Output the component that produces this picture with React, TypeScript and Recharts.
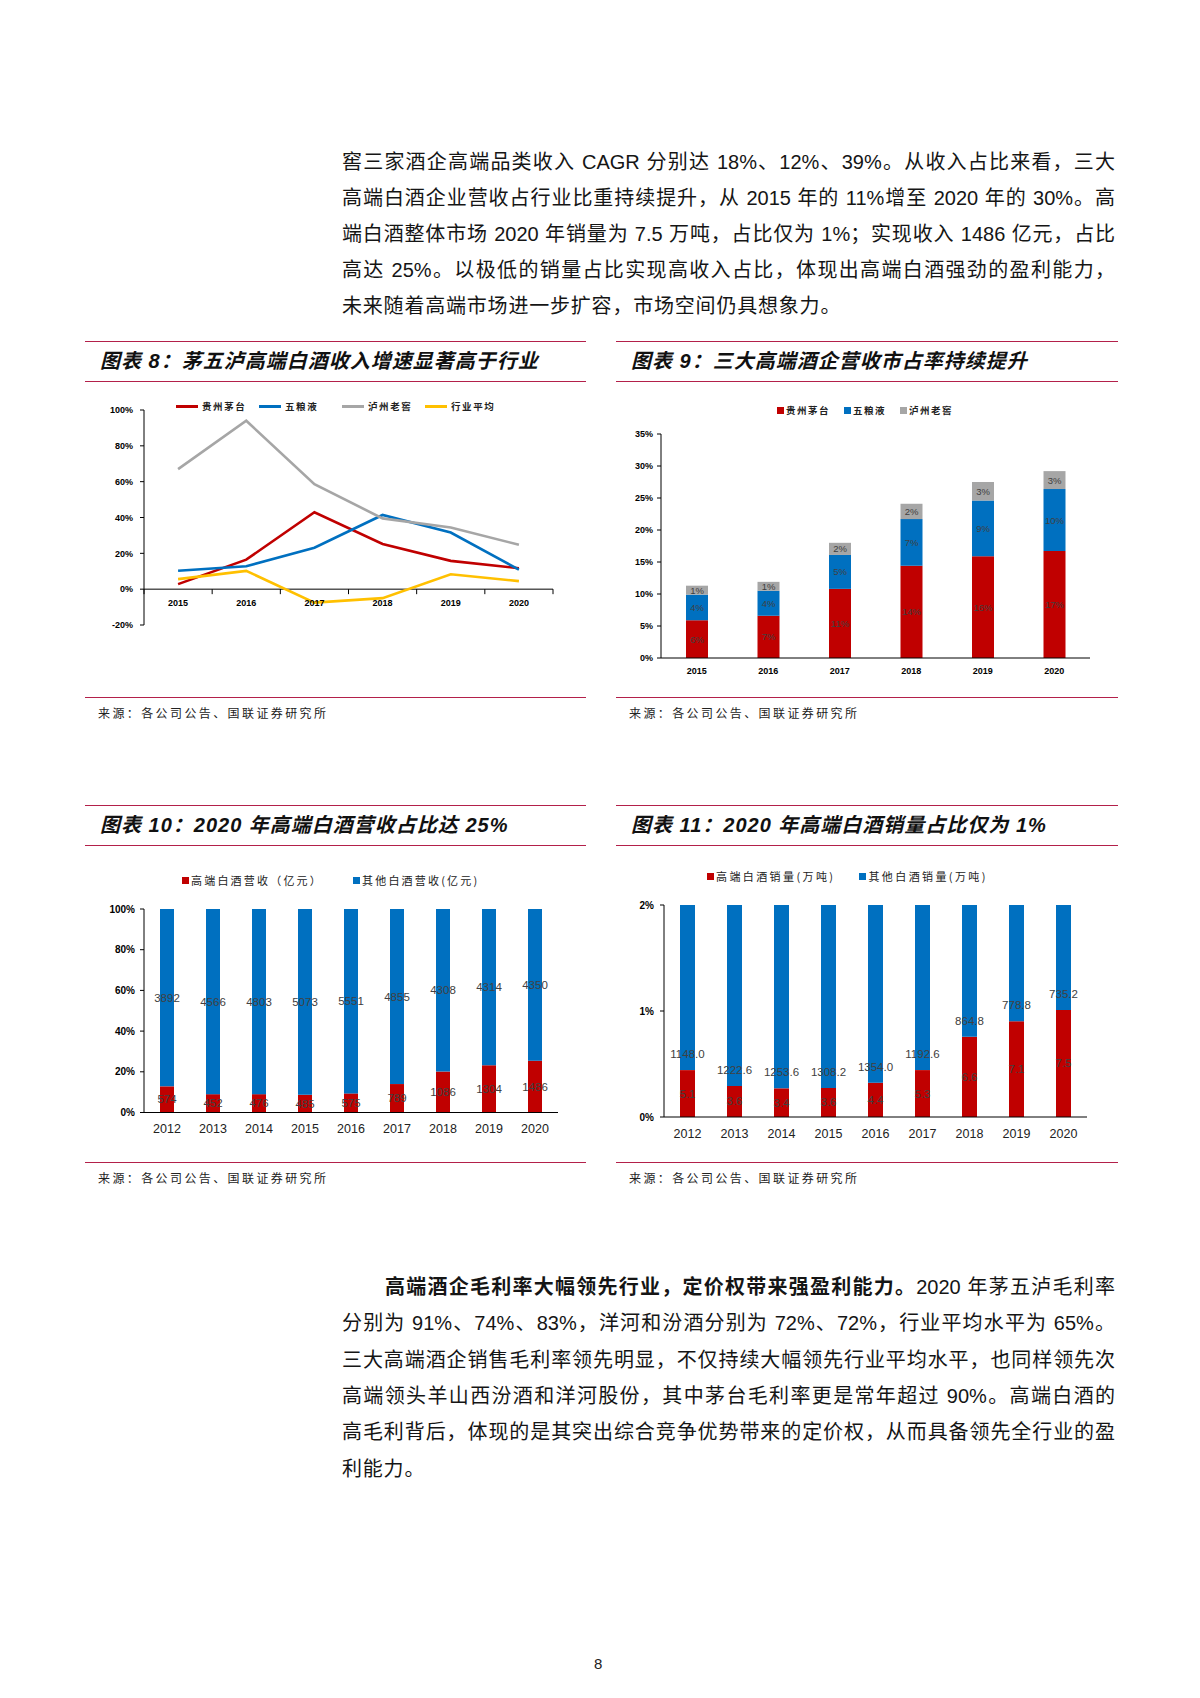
import React from 'react';
import { LineChart, Line, BarChart, Bar, XAxis, YAxis, Legend, ReferenceLine, LabelList } from 'recharts';

const FONT = '"Liberation Sans", "Noto Sans CJK SC", sans-serif';
const NARROW = '"Liberation Sans Narrow", "Liberation Sans", "Noto Sans CJK SC", sans-serif';
const CJK = '"Noto Sans CJK SC", sans-serif';
const RULE = '#b3204a';
const RED = '#c00000';
const BLUE = '#0070c0';
const GRAY = '#a6a6a6';
const YELLOW = '#ffc000';
const LABEL = '#404040';

// 图表8：收入增速（%）
const growthYears = ['2015', '2016', '2017', '2018', '2019', '2020'];
const moutaiGrowth = [2.8, 16.5, 42.9, 25.2, 15.8, 11.7];
const wuliangyeGrowth = [10.3, 12.8, 23.1, 41.4, 31.6, 10.9];
const laojiaoGrowth = [67, 94, 58.6, 39.5, 34.4, 24.8];
const industryGrowth = [5.6, 10.2, -7.5, -5, 8.3, 4.5];
const growthTicks = [-20, 0, 20, 40, 60, 80, 100];

// 图表9：市占率（%）
const moutaiShare = [5.9, 6.6, 10.8, 14.4, 15.9, 16.7];
const wuliangyeShare = [4.0, 3.9, 5.3, 7.3, 8.7, 9.7];
const laojiaoShare = [1.4, 1.4, 1.9, 2.4, 2.9, 2.8];
const shareTicks = [0, 5, 10, 15, 20, 25, 30, 35];

// 图表10 / 11
const longYears = ['2012', '2013', '2014', '2015', '2016', '2017', '2018', '2019', '2020'];
const highRevenue = [574, 452, 476, 485, 575, 789, 1086, 1304, 1486];
const otherRevenue = [3892, 4566, 4803, 5073, 5551, 4855, 4308, 4314, 4350];
const revenueTicks = [0, 0.2, 0.4, 0.6, 0.8, 1];
const highVolume = [5.1, 3.6, 3.4, 3.6, 4.4, 5.3, 6.6, 7.1, 7.5];
const otherVolume = [1148.0, 1222.6, 1253.6, 1308.2, 1354.0, 1192.6, 864.8, 778.8, 735.2];
const volumeTicks = [0, 0.01, 0.02];

const growthSeries = [
  { key: 'moutai', name: '贵州茅台', color: RED },
  { key: 'wuliangye', name: '五粮液', color: BLUE },
  { key: 'laojiao', name: '泸州老窖', color: GRAY },
  { key: 'industry', name: '行业平均', color: YELLOW },
];
const growthRows = growthYears.map((year, i) => ({
  year,
  moutai: moutaiGrowth[i],
  wuliangye: wuliangyeGrowth[i],
  laojiao: laojiaoGrowth[i],
  industry: industryGrowth[i],
}));

const shareRows = growthYears.map((year, i) => ({
  year,
  moutai: moutaiShare[i],
  wuliangye: wuliangyeShare[i],
  laojiao: laojiaoShare[i],
}));

const revenueRows = longYears.map((year, i) => {
  const total = highRevenue[i] + otherRevenue[i];
  return { year, high: highRevenue[i] / total, other: otherRevenue[i] / total };
});

const volumeRows = longYears.map((year, i) => {
  const total = highVolume[i] + otherVolume[i];
  return { year, high: highVolume[i] / total, other: otherVolume[i] / total };
});

const pct = (v: number) => `${Math.round(v * 100)}%`;

// 数据标签：center = 居中, base = 靠近柱底
const makeLabel = (fmt: (i: number) => string, place: 'center' | 'base', size: number, family: string) => (props: any) => {
  const vb = props.viewBox ?? props;
  if (vb == null || vb.x == null) return null;
  const top = Math.min(vb.y, vb.y + vb.height);
  const h = Math.abs(vb.height);
  const cy = place === 'center' ? top + h / 2 : top + h - 16;
  return (
    <text x={vb.x + vb.width / 2} y={cy} textAnchor="middle" dominantBaseline="central"
      fontSize={size} fontFamily={family} fill={LABEL}>
      {fmt(props.index)}
    </text>
  );
};

type LegendItem = { name: string; color: string };
const makeLegend = (items: LegendItem[], kind: 'line' | 'square', opts: { size: number; spacing: number; gap: number; bold?: boolean; itemWidth?: number }) => () => (
  <div style={{ display: 'flex', alignItems: 'center', gap: opts.gap, whiteSpace: 'nowrap' }}>
    {items.map((it) => (
      <div key={it.name} style={{ display: 'flex', alignItems: 'center', width: opts.itemWidth }}>
        {kind === 'line'
          ? <span style={{ display: 'inline-block', width: 22, height: 3, background: it.color, marginRight: 4 }} />
          : <span style={{ display: 'inline-block', width: 7, height: 7, background: it.color, marginRight: 2 }} />}
        <span style={{ fontFamily: CJK, fontSize: opts.size, letterSpacing: opts.spacing, fontWeight: opts.bold ? 700 : 400, color: '#222' }}>{it.name}</span>
      </div>
    ))}
  </div>
);

// 图表8 横轴落在 0% 处
const G_PLOT_H = 215;
const G_BAND = 409 / 6;
const G_ZERO = (G_PLOT_H * 20) / 120;
const GrowthTick = (props: any) => {
  const { x, y, payload, index } = props;
  const zy = y - G_ZERO;
  return (
    <g>
      <line x1={x - G_BAND / 2} x2={x - G_BAND / 2} y1={zy} y2={zy + 5} stroke="#000" />
      {index === growthYears.length - 1 && (
        <line x1={x + G_BAND / 2} x2={x + G_BAND / 2} y1={zy} y2={zy + 5} stroke="#000" />
      )}
      <text x={x} y={zy + 14} textAnchor="middle" dominantBaseline="central" fontSize={9}
        fontWeight={700} fontFamily={NARROW} fill="#000">{payload.value}</text>
    </g>
  );
};

const GrowthChart = () => (
  <LineChart width={501} height={250} data={growthRows} margin={{ top: 20, right: 33, bottom: 0, left: 19 }}>
    <XAxis dataKey="year" scale="point" padding={{ left: G_BAND / 2, right: G_BAND / 2 }} height={15}
      axisLine={false} tickLine={false} tickSize={0} tickMargin={0} interval={0} tick={<GrowthTick />} />
    <YAxis width={40} domain={[-20, 100]} ticks={growthTicks} tickFormatter={(v) => `${v}%`}
      axisLine={{ stroke: '#000' }} tickLine={{ stroke: '#000' }} tickSize={4} tickMargin={7}
      tick={{ fontSize: 9, fontWeight: 700, fontFamily: NARROW, fill: '#000' }} />
    <ReferenceLine y={0} stroke="#000" />
    <Legend layout="horizontal" verticalAlign="middle" align="center"
      wrapperStyle={{ top: 9, left: 91, width: 380 }}
      content={makeLegend(growthSeries, 'line', { size: 9.5, spacing: 1.6, gap: 0, bold: true, itemWidth: 83 })} />
    {growthSeries.map((s) => (
      <Line key={s.key} dataKey={s.key} name={s.name} type="linear" stroke={s.color} strokeWidth={2.6}
        dot={false} activeDot={false} isAnimationActive={false} />
    ))}
  </LineChart>
);

const shareSeries = [
  { key: 'moutai', name: '贵州茅台', color: RED, values: moutaiShare },
  { key: 'wuliangye', name: '五粮液', color: BLUE, values: wuliangyeShare },
  { key: 'laojiao', name: '泸州老窖', color: GRAY, values: laojiaoShare },
];

const ShareChart = () => (
  <BarChart width={502} height={300} data={shareRows} margin={{ top: 44, right: 28, bottom: 0, left: 10 }}>
    <XAxis dataKey="year" height={32} axisLine={{ stroke: '#000' }} tickLine={false} tickSize={0} tickMargin={10}
      interval={0} tick={{ fontSize: 9, fontWeight: 700, fontFamily: NARROW, fill: '#000' }} />
    <YAxis width={35} domain={[0, 35]} ticks={shareTicks} tickFormatter={(v) => `${v}%`}
      axisLine={{ stroke: '#000' }} tickLine={{ stroke: '#000' }} tickSize={4} tickMargin={4}
      tick={{ fontSize: 9, fontWeight: 700, fontFamily: NARROW, fill: '#000' }} />
    <Legend layout="horizontal" verticalAlign="middle" align="center"
      wrapperStyle={{ top: 13, left: 161, width: 300 }}
      content={makeLegend(shareSeries, 'square', { size: 9.5, spacing: 1.5, gap: 14, bold: true })} />
    {shareSeries.map((s) => (
      <Bar key={s.key} dataKey={s.key} name={s.name} stackId="a" fill={s.color} barSize={22} isAnimationActive={false}>
        <LabelList content={makeLabel((i) => `${Math.round(s.values[i])}%`, 'center', 9.5, NARROW)} />
      </Bar>
    ))}
  </BarChart>
);

const RevenueChart = () => (
  <BarChart width={501} height={300} data={revenueRows} margin={{ top: 54, right: 28, bottom: 0, left: 19 }}>
    <XAxis dataKey="year" height={42.5} axisLine={{ stroke: '#000' }} tickLine={false} tickSize={0} tickMargin={12}
      interval={0} tick={{ fontSize: 12.5, fontFamily: FONT, fill: '#222' }} />
    <YAxis width={40} domain={[0, 1]} ticks={revenueTicks} tickFormatter={pct}
      axisLine={{ stroke: '#000' }} tickLine={{ stroke: '#000' }} tickSize={4} tickMargin={5}
      tick={{ fontSize: 10, fontWeight: 700, fontFamily: NARROW, fill: '#000' }} />
    <Legend layout="horizontal" verticalAlign="middle" align="center"
      wrapperStyle={{ top: 17, left: 97, width: 400 }}
      content={makeLegend([{ name: '高端白酒营收（亿元）', color: RED }, { name: '其他白酒营收(亿元)', color: BLUE }],
        'square', { size: 11, spacing: 2.2, gap: 30 })} />
    <Bar dataKey="high" name="高端白酒营收（亿元）" stackId="a" fill={RED} barSize={14} isAnimationActive={false}>
      <LabelList content={makeLabel((i) => String(highRevenue[i]), 'center', 11.5, FONT)} />
    </Bar>
    <Bar dataKey="other" name="其他白酒营收(亿元)" stackId="a" fill={BLUE} barSize={14} isAnimationActive={false}>
      <LabelList content={makeLabel((i) => String(otherRevenue[i]), 'center', 11.5, FONT)} />
    </Bar>
  </BarChart>
);

const VolumeChart = () => (
  <BarChart width={502} height={300} data={volumeRows} margin={{ top: 50, right: 31, bottom: 0, left: 8 }}>
    <XAxis dataKey="year" height={38} axisLine={{ stroke: '#000' }} tickLine={false} tickSize={0} tickMargin={12}
      interval={0} tick={{ fontSize: 12.5, fontFamily: FONT, fill: '#222' }} />
    <YAxis width={40} domain={[0, 0.02]} allowDataOverflow ticks={volumeTicks} tickFormatter={pct}
      axisLine={{ stroke: '#000' }} tickLine={{ stroke: '#000' }} tickSize={4} tickMargin={6}
      tick={{ fontSize: 10, fontWeight: 700, fontFamily: NARROW, fill: '#000' }} />
    <Legend layout="horizontal" verticalAlign="middle" align="center"
      wrapperStyle={{ top: 13, left: 91, width: 400 }}
      content={makeLegend([{ name: '高端白酒销量(万吨)', color: RED }, { name: '其他白酒销量(万吨)', color: BLUE }],
        'square', { size: 11, spacing: 2.4, gap: 24 })} />
    <Bar dataKey="high" name="高端白酒销量(万吨)" stackId="a" fill={RED} barSize={15} isAnimationActive={false}>
      <LabelList content={makeLabel((i) => highVolume[i].toFixed(1), 'center', 11.5, FONT)} />
    </Bar>
    <Bar dataKey="other" name="其他白酒销量(万吨)" stackId="a" fill={BLUE} barSize={15} isAnimationActive={false}>
      <LabelList content={makeLabel((i) => otherVolume[i].toFixed(1), 'base', 11.5, FONT)} />
    </Bar>
  </BarChart>
);

const Panel = ({ left, top, width, height, title, children }: any) => (
  <>
    <div style={{ position: 'absolute', left, top, width, height: 0, borderTop: `1.5px solid ${RULE}` }} />
    <div style={{ position: 'absolute', left: left + 15, top: top + 4, height: 32, lineHeight: '32px', fontFamily: FONT,
      fontSize: 20, fontWeight: 700, fontStyle: 'italic', letterSpacing: 1.0, color: '#111', whiteSpace: 'nowrap' }}>{title}</div>
    <div style={{ position: 'absolute', left, top: top + 40, width, height: 0, borderTop: `1.5px solid ${RULE}` }} />
    <div style={{ position: 'absolute', left, top: top + height, width, height: 0, borderTop: `1.5px solid ${RULE}` }} />
    <div style={{ position: 'absolute', left: left + 13, top: top + height + 7, fontFamily: CJK, fontSize: 12,
      letterSpacing: 2.4, color: '#222', whiteSpace: 'nowrap' }}>来源：各公司公告、国联证券研究所</div>
    {children}
  </>
);

const TextLine = ({ cy, left = 342, width = 773, last, children }: any) => (
  <div style={{ position: 'absolute', left, top: cy - 18, width, height: 36, lineHeight: '36px', fontFamily: FONT,
    fontSize: 20, color: '#151515', textAlign: last ? 'left' : 'justify', textAlignLast: last ? 'left' : 'justify',
    letterSpacing: last ? 0.8 : 0 } as React.CSSProperties}>{children}</div>
);

export default function App() {
  return (
    <div style={{ position: 'absolute', left: 0, top: 0, width: 1200, height: 1698, background: '#fff', overflow: 'hidden' }}>
      <TextLine cy={162}>窖三家酒企高端品类收入 CAGR 分别达 18%、12%、39%。从收入占比来看，三大</TextLine>
      <TextLine cy={198}>高端白酒企业营收占行业比重持续提升，从 2015 年的 11%增至 2020 年的 30%。高</TextLine>
      <TextLine cy={234}>端白酒整体市场 2020 年销量为 7.5 万吨，占比仅为 1%；实现收入 1486 亿元，占比</TextLine>
      <TextLine cy={270}>高达 25%。以极低的销量占比实现高收入占比，体现出高端白酒强劲的盈利能力，</TextLine>
      <TextLine cy={306} last>未来随着高端市场进一步扩容，市场空间仍具想象力。</TextLine>

      <Panel left={85} top={341} width={501} height={356} title="图表 8：茅五泸高端白酒收入增速显著高于行业">
        <div style={{ position: 'absolute', left: 85, top: 390 }}><GrowthChart /></div>
      </Panel>
      <Panel left={616} top={341} width={502} height={356} title="图表 9：三大高端酒企营收市占率持续提升">
        <div style={{ position: 'absolute', left: 616, top: 390 }}><ShareChart /></div>
      </Panel>
      <Panel left={85} top={805} width={501} height={357} title="图表 10：2020 年高端白酒营收占比达 25%">
        <div style={{ position: 'absolute', left: 85, top: 855 }}><RevenueChart /></div>
      </Panel>
      <Panel left={616} top={805} width={502} height={357} title="图表 11：2020 年高端白酒销量占比仅为 1%">
        <div style={{ position: 'absolute', left: 616, top: 855 }}><VolumeChart /></div>
      </Panel>

      <TextLine cy={1287} left={385} width={730}><b>高端酒企毛利率大幅领先行业，定价权带来强盈利能力。</b>2020 年茅五泸毛利率</TextLine>
      <TextLine cy={1323}>分别为 91%、74%、83%，洋河和汾酒分别为 72%、72%，行业平均水平为 65%。</TextLine>
      <TextLine cy={1360}>三大高端酒企销售毛利率领先明显，不仅持续大幅领先行业平均水平，也同样领先次</TextLine>
      <TextLine cy={1396}>高端领头羊山西汾酒和洋河股份，其中茅台毛利率更是常年超过 90%。高端白酒的</TextLine>
      <TextLine cy={1432}>高毛利背后，体现的是其突出综合竞争优势带来的定价权，从而具备领先全行业的盈</TextLine>
      <TextLine cy={1469} last>利能力。</TextLine>

      <div style={{ position: 'absolute', left: 594, top: 1655, fontFamily: FONT, fontSize: 15, color: '#222' }}>8</div>
    </div>
  );
}
